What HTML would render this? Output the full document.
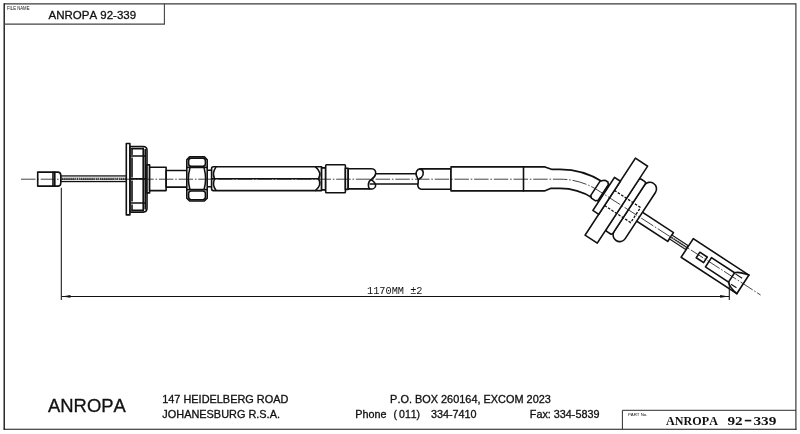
<!DOCTYPE html>
<html>
<head>
<meta charset="utf-8">
<title>ANROPA 92-339</title>
<style>
html,body{margin:0;padding:0;background:#fff;}
body{width:800px;height:434px;overflow:hidden;font-family:"Liberation Sans",sans-serif;}
svg{display:block;position:absolute;left:0;top:0;filter:grayscale(1);}
text{font-family:"Liberation Sans",sans-serif;fill:#111;font-kerning:none;}
.ln{fill:none;stroke:#111;stroke-width:1.6;stroke-linejoin:round;stroke-linecap:round;}
.sh{fill:#fff;stroke:#111;stroke-width:1.6;stroke-linejoin:round;}
.th{fill:none;stroke:#111;stroke-width:1.05;}
.cl{fill:none;stroke:#151515;stroke-width:0.8;stroke-dasharray:14.5 1.8 1.6 1.8;}
.hd{fill:none;stroke:#111;stroke-width:1.3;stroke-dasharray:2.6 1.5;}
text.b{stroke:#111;stroke-width:0.3;}
.fr{fill:none;stroke:#222;stroke-width:1.2;}
</style>
</head>
<body>
<svg width="800" height="434" viewBox="0 0 800 434">
<rect x="0" y="0" width="800" height="434" fill="#fff"/>

<!-- FRAME -->
<g id="frame">
<path d="M4.2 3.8H795.9" fill="none" stroke="#3a3a3a" stroke-width="1.15"/>
<path d="M795.9 3.3V429.8" fill="none" stroke="#3a3a3a" stroke-width="1.2"/>
<path d="M4.2 3.3V429.8" fill="none" stroke="#111" stroke-width="1.35"/>
<path d="M3.6 429.2H796.5" fill="none" stroke="#161616" stroke-width="1.15"/>
<path d="M4.2 24.1H164.4V3.8" fill="none" stroke="#444" stroke-width="1.1"/>
<path d="M622.4 429.2V410.3H795.9" fill="none" stroke="#222" stroke-width="0.95"/>
</g>

<!-- TITLE TEXTS -->
<g id="texts">
<text x="7" y="9.9" font-size="5" textLength="22.5" lengthAdjust="spacingAndGlyphs" fill="#333">FILE NAME</text>
<text x="48.5" y="18.5" font-size="11.5" class="b">ANROPA 92-339</text>
<text transform="translate(48.0 412.1) scale(1.03 1)" font-size="17.9" class="b">ANROPA</text>
<text transform="translate(162.2 402.7) scale(1.06 1)" font-size="10.3" class="b">147 HEIDELBERG ROAD</text>
<text transform="translate(162.3 417.6) scale(1.06 1)" font-size="10.3" class="b">JOHANESBURG R.S.A.</text>
<text transform="translate(390.1 402.7) scale(1.06 1)" font-size="10.3" class="b">P.O. BOX 260164, EXCOM 2023</text>
<text transform="translate(355.3 417.6) scale(1.05 1)" font-size="10.3" class="b">Phone</text>
<text transform="translate(393.5 417.6) scale(1.0 1)" font-size="10.3" class="b">(</text>
<text transform="translate(399.1 417.6) scale(1.02 1)" font-size="10.3" class="b">011)</text>
<text transform="translate(430.9 417.6) scale(1.05 1)" font-size="10.3" class="b">334-7410</text>
<text transform="translate(529.8 417.6) scale(1.05 1)" font-size="10.3" class="b">Fax: 334-5839</text>
<text x="627.9" y="416.2" font-size="4.4" textLength="19.6" lengthAdjust="spacingAndGlyphs" fill="#333">PART No.</text>
<text x="666.1" y="424.6" font-size="13.3" font-weight="bold" style="font-family:'Liberation Serif',serif" textLength="51.8" lengthAdjust="spacingAndGlyphs">ANROPA</text>
<text x="727.4" y="424.6" font-size="13.3" font-weight="bold" style="font-family:'Liberation Serif',serif" textLength="15.2" lengthAdjust="spacingAndGlyphs">92</text>
<rect x="744.8" y="419.8" width="6.5" height="1.6" fill="#111"/>
<text x="753.4" y="424.6" font-size="13.3" font-weight="bold" style="font-family:'Liberation Serif',serif" textLength="23" lengthAdjust="spacingAndGlyphs">339</text>
<text x="367" y="294.3" font-size="10.4" style="font-family:'Liberation Mono',monospace" textLength="55.5" lengthAdjust="spacingAndGlyphs">1170MM ±2</text>
</g>



<!-- CABLE HORIZONTAL PART -->
<g id="horiz">
<!-- wire -->
<rect x="60.7" y="175.9" width="66" height="5.7" fill="#e4e4e4" stroke="#111" stroke-width="1.2"/>
<path d="M62 178.8H126" stroke="#555" stroke-width="2.3" stroke-dasharray="1.4 0.7"/>
<!-- nipple -->
<path class="sh" d="M37.7 172.1H53V186.1H37.7Z"/>
<path class="sh" d="M54.8 172.1H58.3Q60.8 172.5 60.8 175.3V182.9Q60.8 185.7 58.3 186.1H54.8Z"/>
<path class="ln" d="M53 172.1H54.8M53 186.1H54.8"/>
<!-- plate -->
<rect class="sh" x="126.3" y="143.5" width="3.6" height="71.4"/>
<!-- cap -->
<path class="sh" d="M130.1 146.5H143.2Q147 146.5 147 150.3V208.3Q147 212.1 143.2 212.1H130.1Z"/>
<path class="ln" d="M143.2 148.4V210.4M145.2 149.6V209" stroke-width="1.4"/>
<path class="ln" d="M132 148.6H143.2M132 210.2H143.2" stroke-width="1.1"/>
<path class="ln" d="M132 148.6V154.4M132 158V177M132 181V201M132 205V210.2" stroke-width="1"/>
<path class="ln" d="M130.1 156H144.8M130.1 203H144.8" stroke-width="2"/>
<path class="ln" d="M130.1 178.9H147" stroke-width="1.8"/>
<!-- collar -->
<rect class="sh" x="147" y="164.9" width="2.6" height="28"/>
<!-- tube -->
<rect class="sh" x="149.6" y="167.2" width="16.5" height="23.4"/>
<!-- rod -->
<rect class="sh" x="166.2" y="170.5" width="21" height="16.6"/>
<!-- short rod after nut -->
<rect class="sh" x="207" y="170.3" width="5.4" height="16.4"/>
<!-- nut -->
<path class="sh" d="M189.6 156.9H204.4L207.2 159.7V198.2L204.4 201H189.6L186.8 198.2V159.7Z"/>
<path class="ln" d="M186.8 167.4H207.2M186.8 189.6H207.2" stroke-width="2"/>
<rect class="ln" x="188.6" y="158.3" width="16.8" height="8" rx="2.6" stroke-width="1.1"/>
<rect class="ln" x="188.6" y="191" width="16.8" height="8.7" rx="2.6" stroke-width="1.1"/>
<path class="ln" d="M189.8 168.4Q187 178.9 189.8 189M204.2 168.4Q207 178.9 204.2 189" stroke-width="1.1"/>
<!-- hex tube -->
<path class="sh" d="M213.4 166.8H321.6V190.6H213.4Q211.6 190.6 211.6 188.8V168.6Q211.6 166.8 213.4 166.8Z" stroke-width="1.5"/>
<path class="ln" d="M212.4 178.8H319" stroke-width="1.9"/>
<path class="ln" d="M215.8 167.4Q212 172.8 214.4 178.4M214.4 179.2Q212 185 215.8 190" stroke-width="1.1"/>
<path class="ln" d="M315.5 166.9Q322.2 172.6 318.6 178.6M318.6 179Q322.2 185 315.5 190.5" stroke-width="1.7"/>
<!-- collar -->
<rect class="sh" x="321.6" y="167.9" width="4" height="22" stroke-width="1.3"/>
<!-- ferrule -->
<rect class="sh" x="325.7" y="164.8" width="19.7" height="28" rx="0.8"/>
<!-- collar -->
<rect class="sh" x="345.4" y="168.2" width="2.8" height="21.2"/>
<!-- casing 1 with break -->
<path class="sh" d="M348.2 168.7H371.5C375 168.7 376 171.5 375.6 174C375 177.5 372.8 178.6 370.6 180C368 181.8 367.6 186.2 369.6 188.9H348.2Z"/>
<path class="ln" d="M370.6 180C373.2 180.4 376 183.4 375.6 186C375.2 188.4 372.2 189.3 369.6 188.9" stroke-width="1.4"/>
<!-- casing 2 with break -->
<path class="sh" d="M451 168.9H420.2C416.8 169.2 415.6 172.4 416.2 175C416.8 177.8 419.2 179.2 418.2 182.6C417.4 185.4 417.8 188.9 421 189.2H451Z"/>
<path class="ln" d="M420.2 168.9C423.6 169.6 424.4 174.8 421.4 177.4C420.4 178.2 419.4 178.6 418.6 179.4" stroke-width="1.4"/>
<!-- inner cable -->
<path class="ln" d="M375.8 173.7H416.2M370.2 184H417.6"/>
<!-- sleeve + bent tube -->
<path class="sh" d="M451 166.9H545L552.2 169.4H560A79.4 79.4 0 0 1 602.9 182L592.6 198A60.4 60.4 0 0 0 560 188.4H550.5L544.4 190.9H451Z"/>
<path class="ln" d="M523.5 166.9V190.9"/>
</g>

<!-- ANGLED PART: local coords, origin at connector centre, u along axis -->
<g id="ang" transform="translate(715.25 265.4) rotate(33.2)">
<g transform="translate(0 0.6)">
<!-- rod from rings to end -->
<rect class="sh" x="-92" y="-5.2" width="39.1" height="10.6"/>
<!-- inner wire -->
<rect x="-52.9" y="-2.3" width="19.4" height="4.6" fill="#e4e4e4" stroke="#111" stroke-width="1.2"/>
<path d="M-52 0H-34" stroke="#444" stroke-width="1.5" stroke-dasharray="1.6 0.8"/>
</g>
<!-- ring 2 -->
<rect class="sh" x="-103.2" y="-34.9" width="13.2" height="68.4" rx="6.6" ry="6.6"/>
<!-- ring 1 -->
<rect class="sh" x="-111" y="-31.6" width="7.8" height="62.6" rx="2" ry="2"/>
<!-- big flange -->
<rect class="sh" x="-125.5" y="-46" width="14.6" height="92"/>
<!-- small washer -->
<rect class="sh" x="-132.5" y="-18.5" width="7" height="39.5"/>
<!-- bead -->
<path class="sh" d="M-140.5 -9.5L-138.6 -11H-135.5L-133.6 -9V9.5L-135.5 11.5H-140.5L-142.5 9.5V-7.5Z"/>
<path class="ln" d="M-133.2 -9.5V10.5" stroke-width="2.2"/>
<!-- hidden -->
<path class="hd" d="M-125.5 -7.5H-94.2V10.5H-125.5"/>
<g transform="translate(0 0.6)">
<!-- connector -->
<rect class="sh" x="-33" y="-10.9" width="66.5" height="22.2"/>
<rect class="ln" x="-20.1" y="-3.2" width="8.8" height="6.6" stroke-width="1.4"/>
<path class="ln" d="M-7.4 -5H20.2V6H-7.4Z" stroke-width="1.3"/>
<path class="ln" d="M20.2 -5Q23 -8.5 33.5 -10.9M20.2 6Q23 9.5 33.5 11.3" stroke-width="1.2"/>
<path class="th" d="M21.5 -4.6H29.5M23.5 6.5H30"/>
</g>
</g>

<!-- DIMENSION -->
<g id="dim">
<path class="th" d="M61.3 187.8V300"/>
<path class="th" d="M729.3 282.5V300"/>
<path class="th" d="M62 296.4H729"/>
<path d="M61.8 296.4L70.5 295V297.8Z" fill="#111"/>
<path d="M728.8 296.4L720.1 295V297.8Z" fill="#111"/>
</g>

<!-- CENTRELINES -->
<g id="centre">
<path class="cl" d="M21 179.2H560A69.9 69.9 0 0 1 597.76 190.2L715.25 265.6L760.6 295"/>
</g>
</svg>
</body>
</html>
